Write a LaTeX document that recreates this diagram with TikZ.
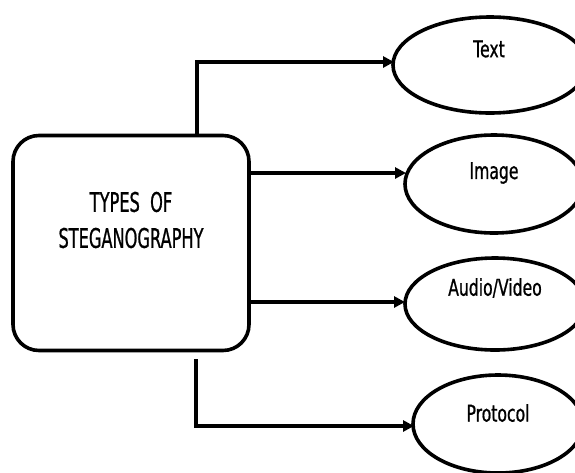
\documentclass[tikz,border=0pt]{standalone}
\usepackage{fontspec}
\usetikzlibrary{shapes.geometric,arrows.meta}
\newfontfamily\boxfont[FakeStretch=0.6,FakeBold=0.8]{DejaVu Sans}
\newfontfamily\labfont[FakeStretch=0.68,FakeBold=0.8]{DejaVu Sans}
\begin{document}
\begin{tikzpicture}[x=1pt,y=-1pt,
  mainbox/.style={draw, line width=3.6pt, rounded corners=26pt, minimum width=236pt, minimum height=215pt, inner sep=0pt},
  oval/.style={draw, ellipse, line width=3.6pt, inner sep=0pt},
  lab/.style={font=\labfont\fontsize{23}{26}\selectfont, inner sep=0pt},
  conn/.style={line width=3.4pt, -{Triangle[length=11pt,width=11pt]}}
]
\useasboundingbox (0,0) rectangle (575,472);
\node[mainbox] (box) at (131,243) {};
\node[font=\boxfont\fontsize{27}{36}\selectfont, align=center, inner sep=0pt] (title) at (131,220) {TYPES\ \ OF\\STEGANOGRAPHY};
% ellipses
\node[oval, minimum width=194pt, minimum height=96pt] (e1) at (490,65) {};
\node[oval, minimum width=178pt, minimum height=98pt] (e2) at (494,184) {};
\node[oval, minimum width=180pt, minimum height=92pt] (e3) at (495,304) {};
\node[oval, minimum width=170pt, minimum height=98pt] (e4) at (498,424) {};
\node[lab] (l1) at (489,49) {Text};
\node[lab] (l2) at (494,173) {Image};
\node[lab] (l3) at (495,288) {Audio/Video};
\node[lab] (l4) at (498,413) {Protocol};
% connector points
\coordinate (t0) at (197,135);
\coordinate (t1) at (394,62);
\coordinate (m0) at (249,173);
\coordinate (m1) at (406,173);
\coordinate (a0) at (249,302);
\coordinate (a1) at (405,302);
\coordinate (b0) at (196,359);
\coordinate (b1) at (414,426);
\draw[conn] (t0) |- (t1);
\draw[conn] (m0) -- (m1);
\draw[conn] (a0) -- (a1);
\draw[conn] (b0) |- (b1);
\end{tikzpicture}
\end{document}
